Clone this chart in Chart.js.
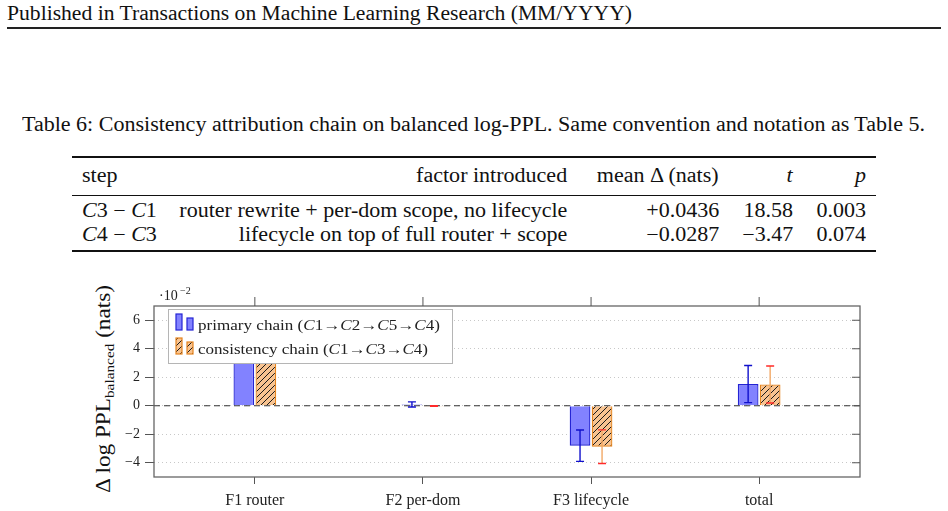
<!DOCTYPE html>
<html>
<head>
<meta charset="utf-8">
<script src="https://cdn.jsdelivr.net/npm/chart.js@4.4.1/dist/chart.umd.min.js"></script>
<style>
  body { margin: 0; width: 948px; height: 511px; background: #fff; position: relative; overflow: hidden;
         font-family: "Liberation Serif", serif; color: #111; }
  .t { position: absolute; white-space: nowrap; line-height: 1; font-size: 20px; }
  .l { transform-origin: left center; }
  .r { transform-origin: right center; }
  .rule { position: absolute; left: 72px; width: 804px; background: #111; }
  #ylab { position: absolute; left: 103px; top: 389px; white-space: nowrap; line-height: 1; font-size: 20px; }
  #ylab sub { font-size: 0.66em; vertical-align: -0.3em; line-height: 0; }
  #c { position: absolute; left: 0; top: 270px; }
</style>
</head>
<body>

<div class="t l" style="left:7px;top:3px" data-w="625">Published in Transactions on Machine Learning Research (MM/YYYY)</div>
<div style="position:absolute;left:7px;top:27px;width:934px;height:1.5px;background:#222"></div>

<div class="t l" id="cap" style="left:22px;top:114px" data-w="903">Table 6: Consistency attribution chain on balanced log-PPL. Same convention and notation as Table 5.</div>

<div class="rule" style="top:156px;height:2px"></div>
<div class="t l" style="left:82px;top:165px">step</div>
<div class="t r" style="right:381px;top:165px">factor introduced</div>
<div class="t r" style="right:229px;top:165px">mean Δ (nats)</div>
<div class="t r" style="right:155px;top:165px"><i>t</i></div>
<div class="t r" style="right:82px;top:165px"><i>p</i></div>
<div class="rule" style="top:195px;height:1px"></div>
<div class="t l" style="left:82px;top:200px"><i>C</i>3 − <i>C</i>1</div>
<div class="t r" style="right:381px;top:200px">router rewrite + per-dom scope, no lifecycle</div>
<div class="t r" style="right:229px;top:200px">+0.0436</div>
<div class="t r" style="right:155px;top:200px">18.58</div>
<div class="t r" style="right:82px;top:200px">0.003</div>
<div class="t l" style="left:82px;top:224px"><i>C</i>4 − <i>C</i>3</div>
<div class="t r" style="right:381px;top:224px">lifecycle on top of full router + scope</div>
<div class="t r" style="right:229px;top:224px">−0.0287</div>
<div class="t r" style="right:155px;top:224px">−3.47</div>
<div class="t r" style="right:82px;top:224px">0.074</div>
<div class="rule" style="top:250px;height:2px"></div>

<div id="ylab">Δ log PPL<sub>balanced</sub> (nats)</div>
<canvas id="c" width="948" height="241"></canvas>

<script>
// chart values, in units of 10^-2 nats
const categories = ['F1 router', 'F2 per-dom', 'F3 lifecycle', 'total'];
const primaryVals = [4.30, 0.09, -2.80, 1.52];
const primaryErr = [0.35, 0.18, 1.10, 1.30];
const consistVals = [4.36, -0.02, -2.87, 1.49];
const consistErr = [0.33, 0.02, 1.18, 1.30];
const yTicks = [-4, -2, 0, 2, 4, 6];
const legendText = [
  ['primary chain (', '*C', '1→', '*C', '2→', '*C', '5→', '*C', '4)'],
  ['consistency chain (', '*C', '1→', '*C', '3→', '*C', '4)']
];

// stretch the html text a little so widths come out like the original typesetting
const texts = Array.from(document.querySelectorAll('.t'));
const capW = document.getElementById('cap').getBoundingClientRect().width;
const scales = texts.map(el => el.dataset.w ? el.dataset.w / el.getBoundingClientRect().width : 903 / capW);
texts.forEach((el, i) => { el.style.transform = 'scaleX(' + scales[i] + ')'; });
const ylab = document.getElementById('ylab');
const ys = 208 / ylab.getBoundingClientRect().width;
ylab.style.transform = 'translate(-50%,-50%) rotate(-90deg) scaleX(' + ys + ')';

const ctx = document.getElementById('c').getContext('2d');
const serif = "'Liberation Serif', serif";

function makeHatch() {
  const p = document.createElement('canvas');
  p.width = 6; p.height = 6;
  const g = p.getContext('2d');
  g.fillStyle = '#f8c390';
  g.fillRect(0, 0, 6, 6);
  g.strokeStyle = '#1a1a1a';
  g.lineWidth = 1;
  g.beginPath();
  g.moveTo(0, 6); g.lineTo(6, 0);
  g.moveTo(-1, 1); g.lineTo(1, -1);
  g.moveTo(5, 7); g.lineTo(7, 5);
  g.stroke();
  return ctx.createPattern(p, 'repeat');
}
const hatch = makeHatch();

const blueFill = '#8282ff', blueLine = '#2424d4';
const orangeLine = '#e5841e';

const decor = {
  id: 'decor',
  beforeDatasetsDraw(chart) {
    const a = chart.chartArea, y0 = chart.scales.y.getPixelForValue(0);
    ctx.save();
    ctx.strokeStyle = '#333';
    ctx.lineWidth = 1;
    ctx.setLineDash([6, 4]);
    ctx.beginPath();
    ctx.moveTo(a.left, y0); ctx.lineTo(a.right, y0);
    ctx.stroke();
    ctx.restore();
  },
  afterDatasetsDraw(chart) {
    const a = chart.chartArea, ys = chart.scales.y, xs = chart.scales.x;
    // error bars
    chart.data.datasets.forEach((ds, di) => {
      chart.getDatasetMeta(di).data.forEach((bar, i) => {
        const v = ds.data[i].y, e = ds.errs[i];
        const yt = ys.getPixelForValue(v + e), yb = ys.getPixelForValue(v - e);
        ctx.save();
        ctx.lineWidth = 1.4;
        ctx.strokeStyle = ds.errColor;
        ctx.beginPath(); ctx.moveTo(bar.x, yt); ctx.lineTo(bar.x, yb); ctx.stroke();
        ctx.strokeStyle = ds.capColor;
        ctx.beginPath();
        ctx.moveTo(bar.x - 4, yt); ctx.lineTo(bar.x + 4, yt);
        ctx.moveTo(bar.x - 4, yb); ctx.lineTo(bar.x + 4, yb);
        ctx.stroke();
        ctx.restore();
      });
    });
    // frame + extra ticks
    ctx.save();
    ctx.strokeStyle = '#666';
    ctx.lineWidth = 1.3;
    ctx.strokeRect(a.left, a.top, a.right - a.left, a.bottom - a.top);
    ctx.strokeStyle = '#555';
    ctx.lineWidth = 1;
    ctx.beginPath();
    yTicks.forEach(v => { const p = ys.getPixelForValue(v); ctx.moveTo(a.right - 8, p); ctx.lineTo(a.right, p); });
    categories.forEach((c, i) => { const p = xs.getPixelForValue(i); ctx.moveTo(p, a.top - 9); ctx.lineTo(p, a.top); });
    ctx.stroke();
    // exponent
    ctx.fillStyle = '#222';
    ctx.textBaseline = 'alphabetic';
    ctx.font = '14px ' + serif;
    ctx.fillText('·10', 159, 30);
    ctx.font = '10px ' + serif;
    ctx.fillText('−2', 180, 24);
    ctx.restore();
    // legend
    const lx = 168, ly = 39, lw = 284, lh = 54;
    ctx.save();
    ctx.fillStyle = '#fff';
    ctx.fillRect(lx, ly, lw, lh);
    ctx.strokeStyle = '#b5b5b5';
    ctx.lineWidth = 1;
    ctx.strokeRect(lx + 0.5, ly + 0.5, lw, lh);
    const rows = [{ y: 55, fill: blueFill, line: blueLine, w: 242 }, { y: 79, fill: hatch, line: orangeLine, w: 230 }];
    rows.forEach((r, k) => {
      ctx.fillStyle = r.fill;
      ctx.strokeStyle = r.line;
      ctx.lineWidth = 1.2;
      ctx.fillRect(176, r.y - 11, 6, 16); ctx.strokeRect(176, r.y - 11, 6, 16);
      ctx.fillRect(187, r.y - 7, 6, 12); ctx.strokeRect(187, r.y - 7, 6, 12);
      // text in pieces, italic where marked
      const parts = legendText[k];
      let total = 0;
      parts.forEach(s => {
        ctx.font = (s[0] === '*' ? 'italic ' : '') + '15px ' + serif;
        total += ctx.measureText(s[0] === '*' ? s.slice(1) : s).width;
      });
      const sx = r.w / total;
      ctx.save();
      ctx.translate(198, r.y + 5);
      ctx.scale(sx, 1);
      ctx.fillStyle = '#222';
      let x = 0;
      parts.forEach(s => {
        const it = s[0] === '*', t = it ? s.slice(1) : s;
        ctx.font = (it ? 'italic ' : '') + '15px ' + serif;
        ctx.fillText(t, x, 0);
        x += ctx.measureText(t).width;
      });
      ctx.restore();
    });
    ctx.restore();
  }
};

new Chart(ctx, {
  type: 'bar',
  data: {
    datasets: [
      {
        label: 'primary chain', data: primaryVals.map((v, i) => ({ x: i, y: v })),
        backgroundColor: blueFill, borderColor: blueLine, borderWidth: 1.3,
        errs: primaryErr, errColor: '#1010cc', capColor: '#1010cc',
        categoryPercentage: 0.262, barPercentage: 0.94
      },
      {
        label: 'consistency chain', data: consistVals.map((v, i) => ({ x: i, y: v })),
        backgroundColor: hatch, borderColor: orangeLine, borderWidth: 1.3,
        errs: consistErr, errColor: '#f2a866', capColor: '#ff2a2a',
        categoryPercentage: 0.262, barPercentage: 0.94
      }
    ]
  },
  options: {
    responsive: false,
    animation: false,
    devicePixelRatio: 1,
    layout: { padding: { top: 36, right: 88, left: 0, bottom: 0 } },
    plugins: { legend: { display: false }, tooltip: { enabled: false } },
    scales: {
      x: {
        type: 'linear', min: -0.6, max: 3.6, offset: false,
        afterBuildTicks: s => { s.ticks = categories.map((c, i) => ({ value: i })); },
        afterFit: s => { s.height = 34; },
        ticks: { callback: v => categories[v], font: { family: serif, size: 16 }, color: '#222', padding: 7, maxRotation: 0, autoSkip: false },
        grid: { offset: false, drawOnChartArea: false, tickLength: 7, tickColor: '#555' },
        border: { display: false }
      },
      y: {
        min: -5, max: 7,
        afterBuildTicks: s => { s.ticks = yTicks.map(v => ({ value: v })); },
        afterFit: s => { s.width = 154; },
        ticks: { callback: v => v < 0 ? '−' + Math.abs(v) : String(v), font: { family: serif, size: 14 }, color: '#222', padding: 5 },
        grid: { color: '#c8c8c8', lineWidth: 1, tickLength: 9, tickColor: '#555' },
        border: { display: false, dash: [1, 3] }
      }
    }
  },
  plugins: [decor]
});
</script>
</body>
</html>
